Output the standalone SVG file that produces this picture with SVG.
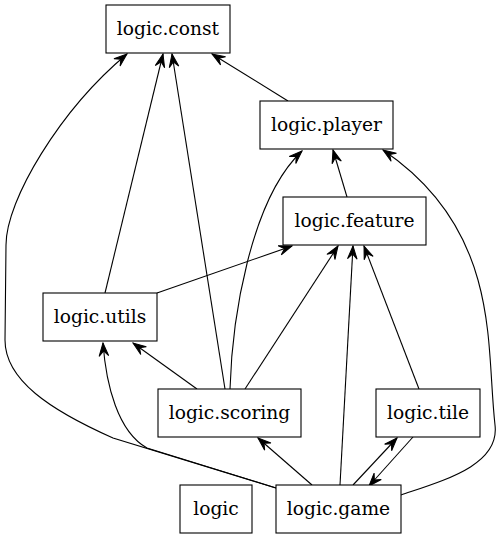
<svg xmlns="http://www.w3.org/2000/svg" width="503" height="539" viewBox="0 0 503 539">
<style>
.node rect{fill:#ffffff;stroke:#000000;stroke-width:1.1}
.node text{font-family:"DejaVu Serif","Liberation Serif",serif;font-size:18.67px;text-anchor:middle;fill:#000000}
.edges path{fill:none;stroke:#000000;stroke-width:1.1;marker-end:url(#vee)}
</style>
<defs>
<marker id="vee" markerUnits="userSpaceOnUse" viewBox="-14 -6 15 12" markerWidth="15" markerHeight="12" refX="0" refY="0" orient="auto">
<path d="M0,0 L-13,-4.8 L-8,0 L-13,4.8 Z" fill="#000000" stroke="#000000" stroke-width="1"/>
</marker>
</defs>
<rect x="0" y="0" width="503" height="539" fill="#ffffff"/>
<g class="edges" id="edges">
<path d="M276,488 L113,438 C50,410 5,380 5,340 L6,245 C6,200 60,110 127,54"/>
<path d="M276,488 L147,448 C118,432 106,385 103,343"/>
<path d="M197,389 L133,343"/>
<path d="M105,293 L163,54"/>
<path d="M225,389 L172,54"/>
<path d="M288,101 L212,54"/>
<path d="M347,197 L333,150"/>
<path d="M157,293 L292,246"/>
<path d="M230,389 C232,320 250,200 302,151"/>
<path d="M401,495 C445,480 500,465 495,425 C490,380 492,330 478,280 C460,215 420,175 383,150"/>
<path d="M245,389 L338,246"/>
<path d="M340,485 L353,246"/>
<path d="M419,389 L364,246"/>
<path d="M312,485 L258,438"/>
<path d="M353,485 L397,438"/>
<path d="M413,437 L369,486"/>
</g>
<g class="node" id="logic_const"><rect x="106" y="5" width="124" height="48"/><text x="168" y="35">logic.const</text></g>
<g class="node" id="logic_player"><rect x="260" y="101" width="133" height="48"/><text x="326.5" y="131">logic.player</text></g>
<g class="node" id="logic_feature"><rect x="283" y="197" width="143" height="48"/><text x="354.5" y="227">logic.feature</text></g>
<g class="node" id="logic_utils"><rect x="43" y="293" width="114" height="48"/><text x="100" y="323">logic.utils</text></g>
<g class="node" id="logic_scoring"><rect x="158" y="389" width="143" height="48"/><text x="229.5" y="419">logic.scoring</text></g>
<g class="node" id="logic_tile"><rect x="376" y="389" width="104" height="48"/><text x="428" y="419">logic.tile</text></g>
<g class="node" id="logic"><rect x="180" y="485" width="72" height="48"/><text x="216" y="515">logic</text></g>
<g class="node" id="logic_game"><rect x="276" y="485" width="125" height="48"/><text x="338.5" y="515">logic.game</text></g>
</svg>
